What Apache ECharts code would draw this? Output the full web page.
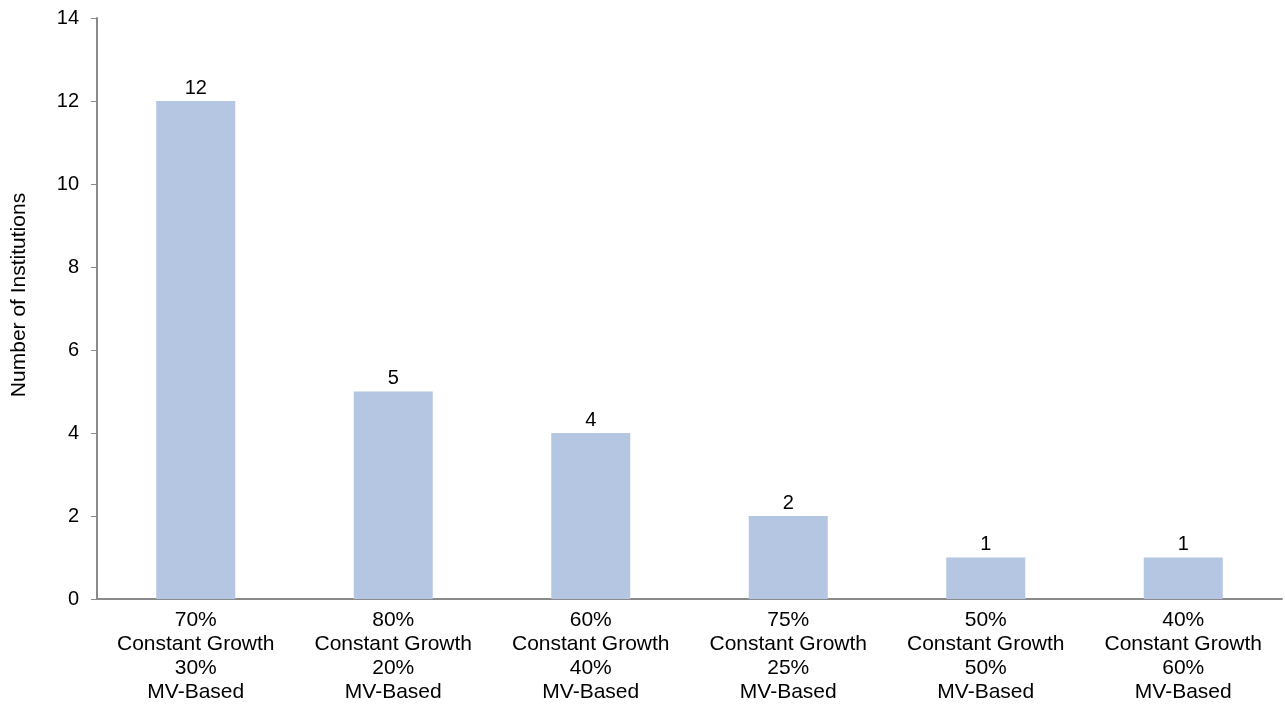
<!DOCTYPE html>
<html>
<head>
<meta charset="utf-8">
<script src="https://cdn.jsdelivr.net/npm/echarts@6/dist/echarts.min.js"></script>
<style>
  html, body { margin: 0; padding: 0; background: #fff; }
  #chart { width: 1285px; height: 709px; }
</style>
</head>
<body>
<div id="chart"></div>
<script>
// Allocation mixes (constant growth / market-value based)
const categories = [
  '70%\nConstant Growth\n30%\nMV-Based',
  '80%\nConstant Growth\n20%\nMV-Based',
  '60%\nConstant Growth\n40%\nMV-Based',
  '75%\nConstant Growth\n25%\nMV-Based',
  '50%\nConstant Growth\n50%\nMV-Based',
  '40%\nConstant Growth\n60%\nMV-Based'
];
// Institutions using each mix
const institutions = [12, 5, 4, 2, 1, 1];
const yAxisTitle = 'Number of Institutions';

const font = 'Liberation Sans, Arial, sans-serif';
const chart = echarts.init(document.getElementById('chart'));
chart.setOption({
  animation: false,
  grid: { left: 97, right: 3, top: 18, bottom: 110, containLabel: false },
  xAxis: {
    type: 'category',
    data: categories,
    axisLine: { lineStyle: { color: '#8a8a8a', width: 2 } },
    axisTick: { show: false },
    axisLabel: { color: '#000', fontFamily: font, fontSize: 21, lineHeight: 24, margin: 9, interval: 0 }
  },
  yAxis: {
    type: 'value',
    min: 0, max: 14, interval: 2,
    name: yAxisTitle,
    nameLocation: 'middle',
    nameGap: 67,
    nameTextStyle: { color: '#000', fontFamily: font, fontSize: 21, padding: [0, 0, 0, 27] },
    axisLine: { show: true, lineStyle: { color: '#8a8a8a', width: 2 } },
    axisTick: { show: true, length: 6, lineStyle: { color: '#8a8a8a', width: 1 } },
    axisLabel: { color: '#000', fontFamily: font, fontSize: 20, margin: 18 },
    splitLine: { show: false }
  },
  series: [{
    type: 'bar',
    data: institutions,
    barWidth: 79,
    itemStyle: { color: '#B4C6E1' },
    label: { show: true, position: 'top', distance: 3, color: '#000', fontFamily: font, fontSize: 20 }
  }]
});
</script>
</body>
</html>
